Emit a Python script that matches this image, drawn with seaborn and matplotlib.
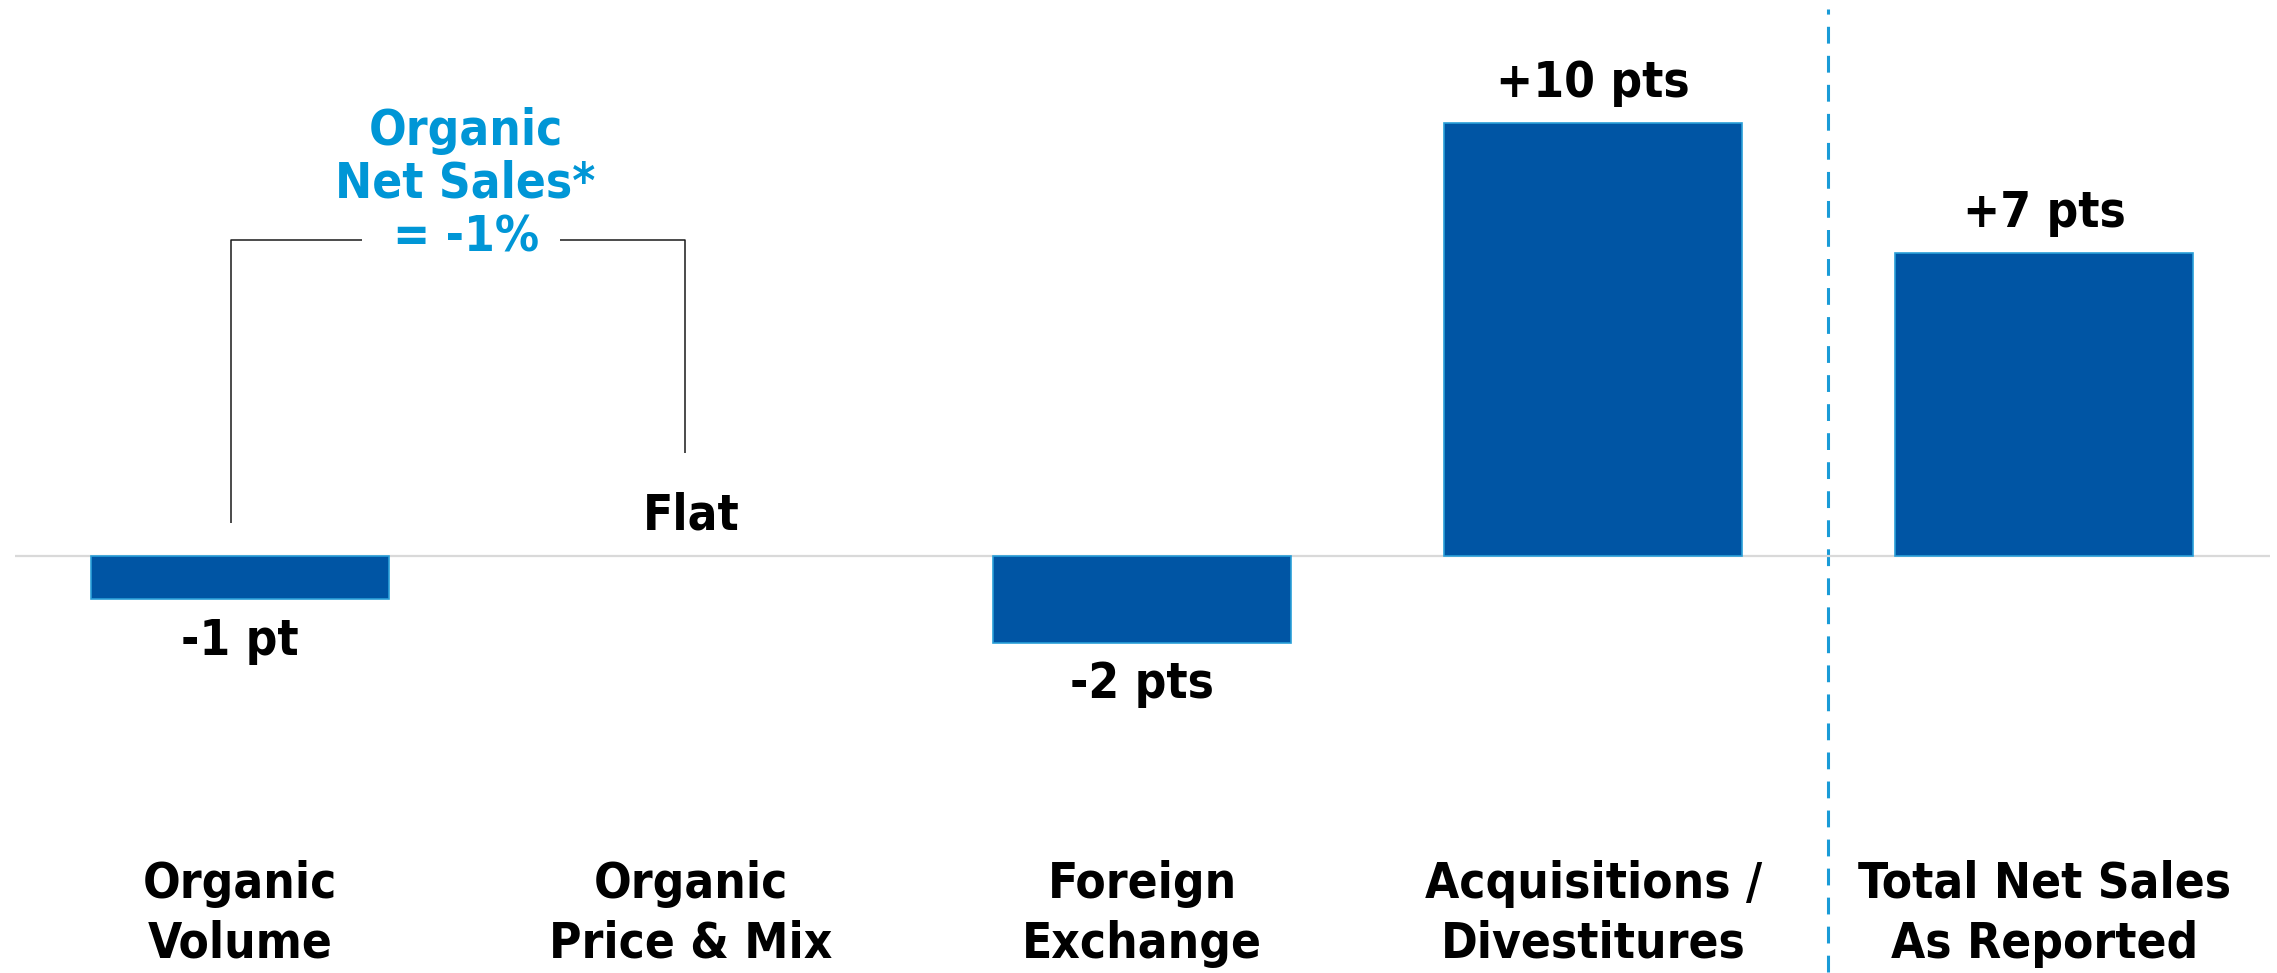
import matplotlib
matplotlib.use("Agg")
import matplotlib.pyplot as plt
from matplotlib import font_manager
import seaborn as sns
import pandas as pd

# ---- data ----
categories = ["Organic\nVolume", "Organic\nPrice & Mix", "Foreign\nExchange",
              "Acquisitions /\nDivestitures", "Total Net Sales\nAs Reported"]
values = [-1, 0, -2, 10, 7]
value_labels = ["-1 pt", "Flat", "-2 pts", "+10 pts", "+7 pts"]
bracket_text = "Organic\nNet Sales*\n= -1%"

sns.set_theme(style="white")

names = {f.name for f in font_manager.fontManager.ttflist}
if "Liberation Sans Narrow" in names:
    FONT = ["Liberation Sans Narrow", "DejaVu Sans"]
    STRETCH = "normal"
else:
    FONT = ["DejaVu Sans"]
    STRETCH = "condensed"
plt.rcParams["font.family"] = FONT

BAR = "#0055A4"
EDGE = "#2A9FD8"
ACCENT = "#0096D6"

fig = plt.figure(figsize=(22.77, 9.73), dpi=100)
ax = fig.add_axes([0.0064, 0.0, 0.9904, 1.0])

df = pd.DataFrame({"cat": categories, "val": values})
sns.barplot(data=df, x="cat", y="val", color=BAR, saturation=1, width=0.66,
            edgecolor=EDGE, linewidth=1.2, ax=ax, zorder=3)
for p in ax.patches:
    if p.get_height() == 0:
        p.set_linewidth(0)

ax.set_xlim(-0.5, 4.5)
ax.set_ylim(-9.63, 12.85)
ax.set_xticks([])
ax.set_yticks([])
ax.set_xlabel("")
ax.set_ylabel("")
for s in ax.spines.values():
    s.set_visible(False)

# baseline
ax.axhline(0, color="#D9D9D9", lw=1.6, zorder=2)

# value labels
FS = 35.5
for i, (v, lab) in enumerate(zip(values, value_labels)):
    off = -30 if v < 0 else 29
    ax.annotate(lab, xy=(i, v), xytext=(0, off), textcoords="offset points",
                ha="center", va="center", fontsize=FS, fontweight="bold",
                color="black", fontstretch=STRETCH)

# category labels
for i, c in enumerate(categories):
    ax.text(i, -8.26, c, ha="center", va="center", fontsize=FS,
            fontweight="bold", color="black", linespacing=1.32,
            fontstretch=STRETCH)

# divider
ax.plot([3.52, 3.52], [-9.6, 12.65], color="#1A9BD7", lw=2.2,
        dashes=(5.5, 4), zorder=1)

# bracket
lk = dict(color="#1A1A1A", lw=1.1, zorder=2, solid_capstyle="butt")
ax.plot([-0.02, -0.02, 0.27], [0.77, 7.3, 7.3], **lk)
ax.plot([0.71, 0.987, 0.987], [7.3, 7.3, 2.38], **lk)
ax.text(0.5, 8.6, bracket_text, ha="center", va="center", fontsize=FS,
        fontweight="bold", color=ACCENT, linespacing=1.14,
        fontstretch=STRETCH)

fig.savefig("out.png", dpi=100)
